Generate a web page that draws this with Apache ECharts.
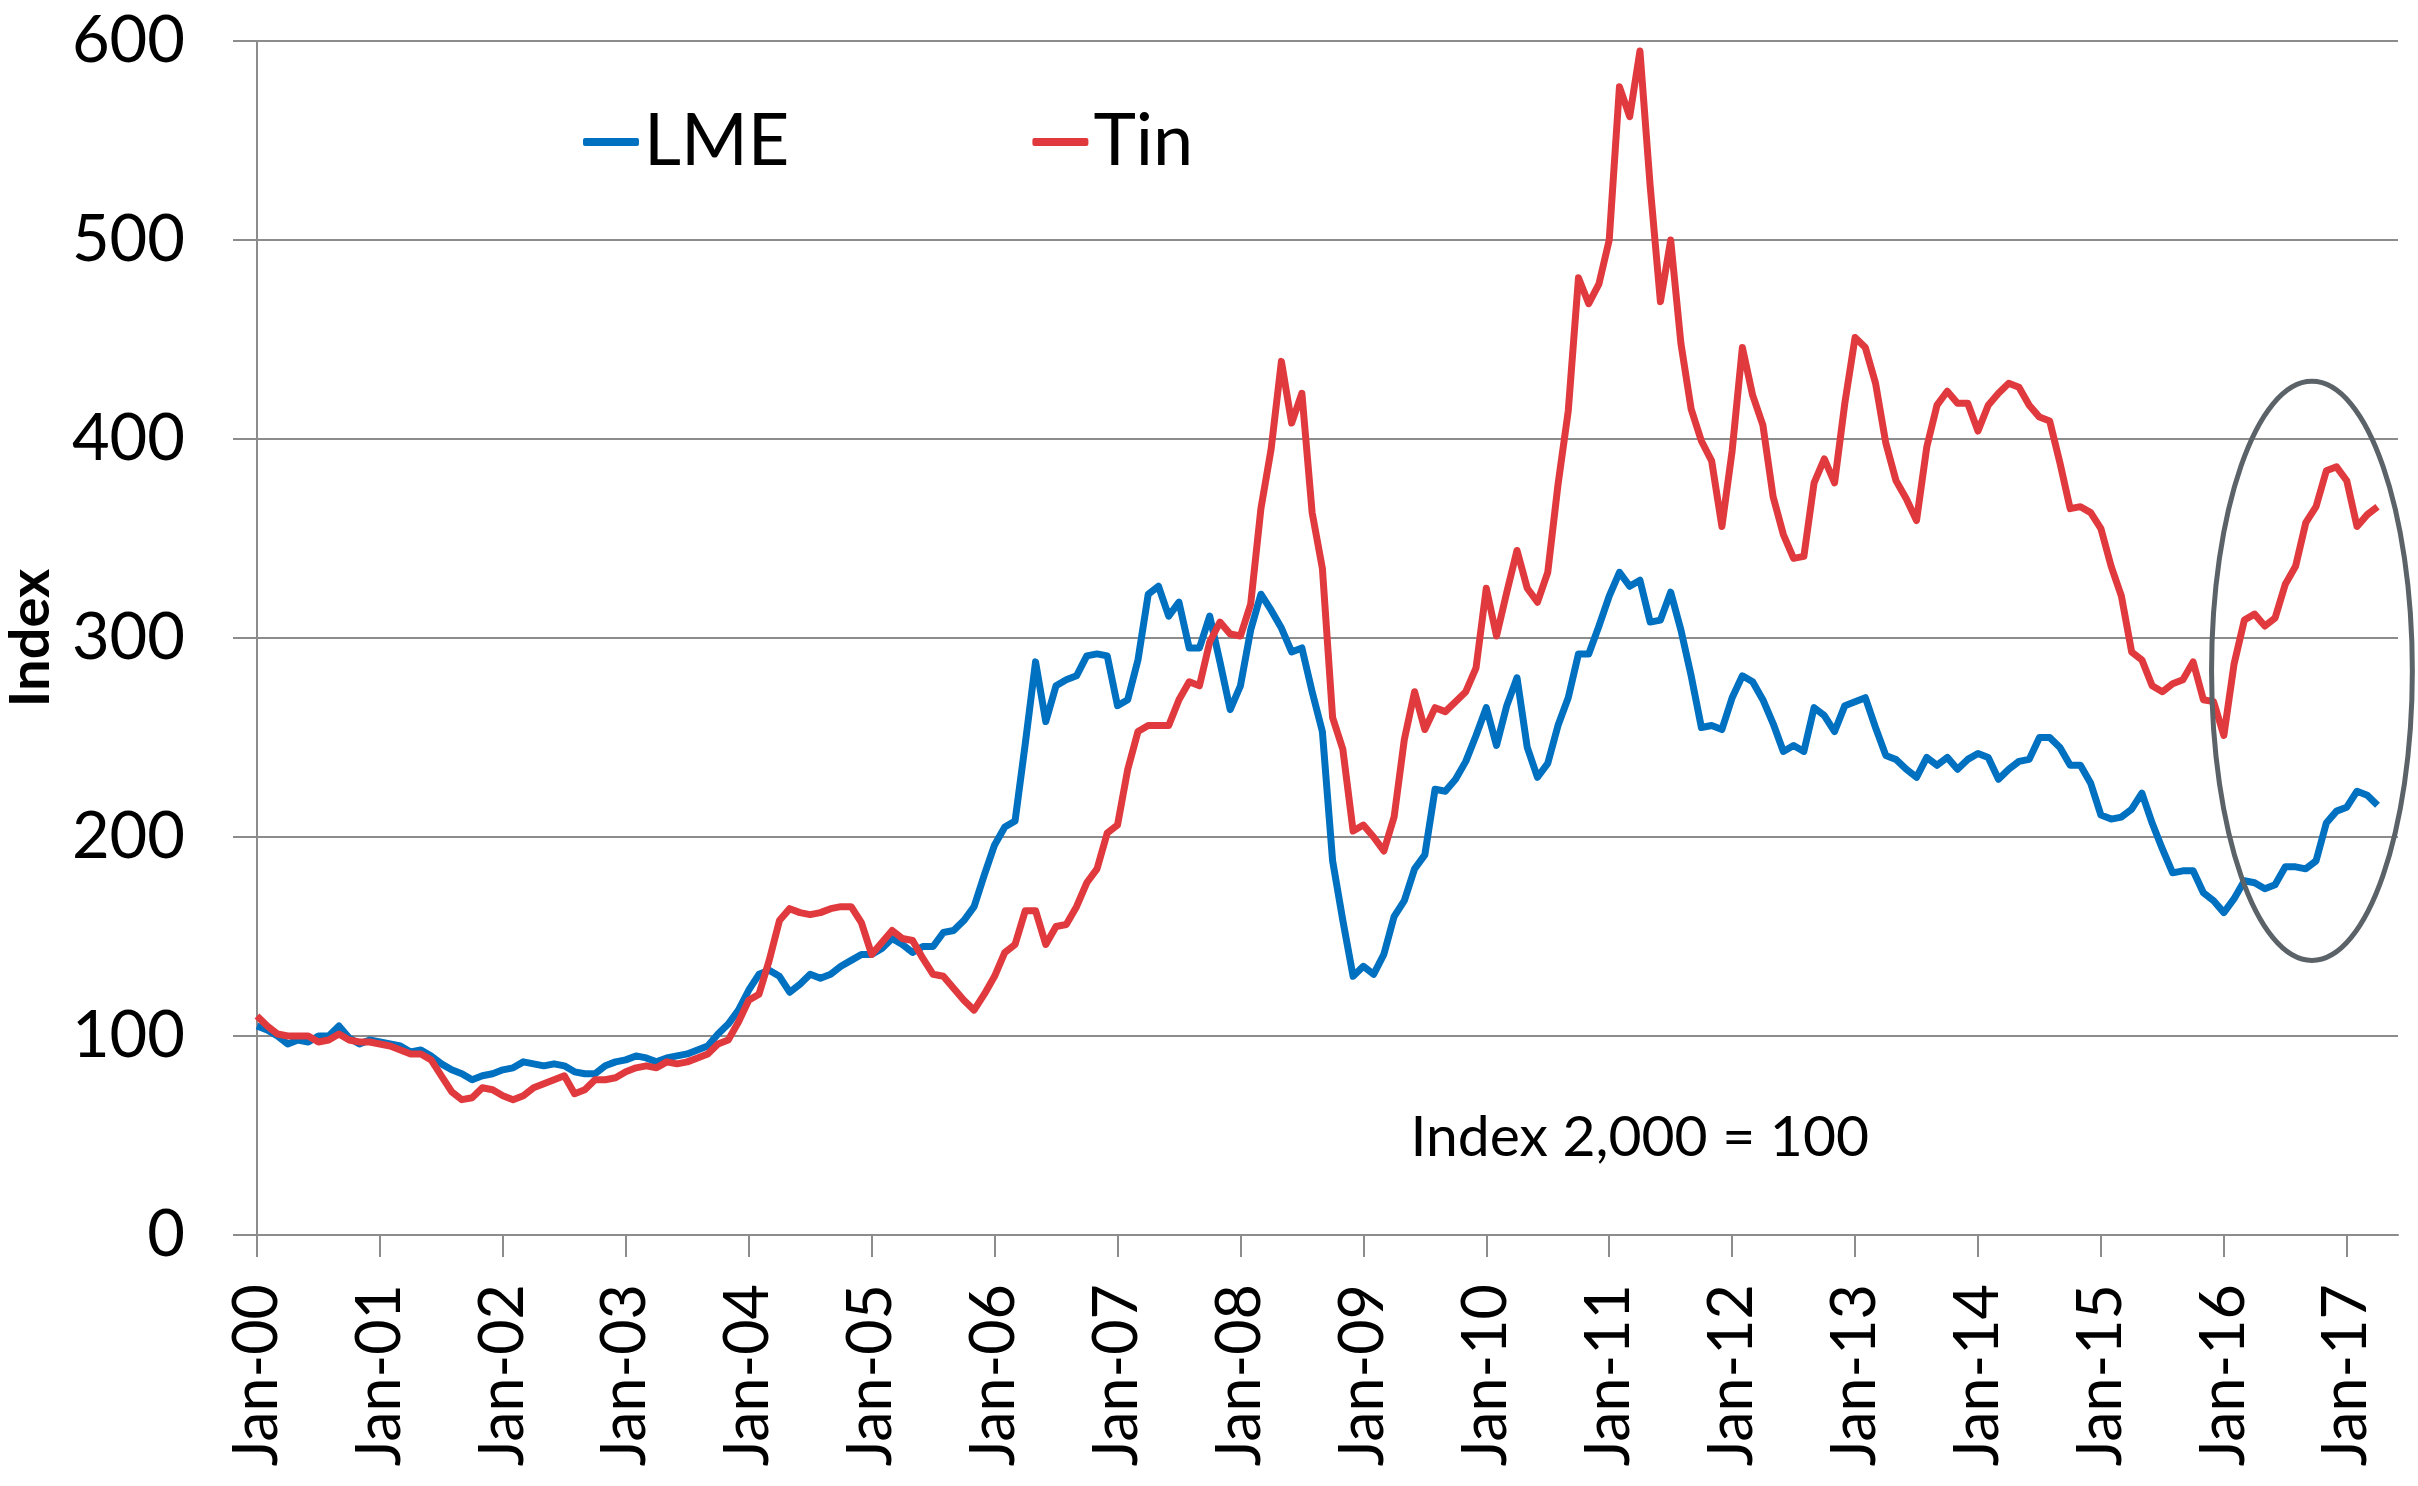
<!DOCTYPE html>
<html>
<head>
<meta charset="utf-8">
<title>LME vs Tin index</title>
<script src="https://cdn.jsdelivr.net/npm/echarts@6/dist/echarts.min.js"></script>
<style>
  html, body { margin: 0; padding: 0; background: #fff; }
  #chart { width: 2418px; height: 1486px; }
</style>
</head>
<body>
<div id="chart"></div>
<script>
// month labels Jan-00 .. Jun-17 (axis runs a couple of months past the data)
const monthNames = ['Jan', 'Feb', 'Mar', 'Apr', 'May', 'Jun', 'Jul', 'Aug', 'Sep', 'Oct', 'Nov', 'Dec']
const firstYear = 2000
const monthCount = 210
const months = []
for (let i = 0; i < monthCount; i++) {
  const yy = String((firstYear + Math.floor(i / 12)) % 100).padStart(2, '0')
  months.push(monthNames[i % 12] + '-' + yy)
}

// monthly index values, one row per year (2000 = 100)
const lme = [
  105, 103, 100, 96, 98, 97, 100, 100, 105, 99, 96, 98,
  97, 96, 95, 92, 93, 90, 86, 83, 81, 78, 80, 81,
  83, 84, 87, 86, 85, 86, 85, 82, 81, 81, 85, 87,
  88, 90, 89, 87, 89, 90, 91, 93, 95, 101, 106, 113,
  123, 131, 133, 130, 122, 126, 131, 129, 131, 135, 138, 141,
  141, 144, 149, 146, 142, 145, 145, 152, 153, 158, 165, 181,
  196, 205, 208, 247, 288, 258, 276, 279, 281, 291, 292, 291,
  266, 269, 289, 322, 326, 311, 318, 295, 295, 311, 288, 264,
  276, 304, 322, 314, 305, 293, 295, 273, 253, 188, 158, 130,
  135, 131, 141, 160, 168, 184, 191, 224, 223, 229, 238, 251,
  265, 246, 266, 280, 245, 230, 237, 256, 270, 292, 292, 306,
  321, 333, 326, 329, 308, 309, 323, 304, 281, 255, 256, 254,
  270, 281, 278, 269, 257, 243, 246, 243, 265, 261, 253, 266,
  268, 270, 255, 241, 239, 234, 230, 240, 236, 240, 234, 239,
  242, 240, 229, 234, 238, 239, 250, 250, 245, 236, 236, 227,
  211, 209, 210, 214, 222, 207, 194, 182, 183, 183, 172, 168,
  162, 169, 178, 177, 174, 176, 185, 185, 184, 188, 207, 213,
  215, 223, 221, 216
]
const tin = [
  110, 105, 101, 100, 100, 100, 97, 98, 101, 98, 97, 97,
  96, 95, 93, 91, 91, 88, 80, 72, 68, 69, 74, 73,
  70, 68, 70, 74, 76, 78, 80, 71, 73, 78, 78, 79,
  82, 84, 85, 84, 87, 86, 87, 89, 91, 96, 98, 107,
  118, 121, 138, 158, 164, 162, 161, 162, 164, 165, 165, 157,
  141, 147, 153, 149, 148, 139, 131, 130, 124, 118, 113, 121,
  130, 142, 146, 163, 163, 146, 155, 156, 165, 177, 184, 202,
  206, 234, 253, 256, 256, 256, 269, 278, 276, 298, 308, 302,
  301, 317, 365, 395, 439, 408, 423, 363, 335, 260, 244, 203,
  206, 200, 193, 210, 249, 273, 254, 265, 263, 268, 273, 285,
  325, 301, 323, 344, 325, 318, 333, 377, 414, 481, 468, 478,
  500, 577, 562, 595, 527, 469, 500, 448, 415, 399, 389, 356,
  394, 446, 422, 407, 371, 352, 340, 341, 378, 390, 378, 418,
  451, 446, 428, 398, 379, 370, 359, 396, 417, 424, 418, 418,
  404, 417, 423, 428, 426, 417, 411, 409, 388, 365, 366, 363,
  355, 336, 321, 293, 289, 276, 273, 277, 279, 288, 269, 268,
  251, 287, 309, 312, 306, 310, 327, 336, 358, 366, 384, 386,
  379, 356, 362, 366
]

// annotations, in data units (month index, index value)
const noteText = 'Index 2,000 = 100'
const noteAt = [112.6, 49]
const ringCenter = [200.6, 283.5]
const ringRadius = [9.8, 145.5]

const font = 'Lato, "Noto Sans", sans-serif'
const gray = '#8c8c8c'
const blue = '#0070c0'
const red = '#e03a3e'
const everyJan = (index) => index % 12 === 0

const chart = echarts.init(document.getElementById('chart'))

chart.setOption({
  animation: false,
  backgroundColor: '#ffffff',
  grid: {
    left: 257,
    right: 20,
    top: 41,
    bottom: 251,
    outerBoundsMode: 'none'
  },
  legend: {
    data: ['LME', 'Tin'],
    left: 583,
    top: 106,
    padding: 0,
    icon: 'roundRect',
    itemWidth: 56,
    itemHeight: 8,
    itemGap: 243,
    textStyle: {
      fontFamily: font,
      fontSize: 72,
      color: '#000'
    }
  },
  xAxis: {
    type: 'category',
    data: months,
    boundaryGap: false,
    axisLine: {
      lineStyle: { color: gray, width: 2 }
    },
    axisTick: {
      interval: everyJan,
      length: 22,
      lineStyle: { color: gray, width: 2 }
    },
    axisLabel: {
      interval: everyJan,
      rotate: 90,
      margin: 49,
      fontFamily: font,
      fontSize: 61,
      color: '#000'
    },
    splitLine: { show: false }
  },
  yAxis: {
    type: 'value',
    min: 0,
    max: 600,
    interval: 100,
    name: 'Index',
    nameLocation: 'middle',
    nameRotate: 90,
    nameGap: 198,
    nameTextStyle: {
      fontFamily: font,
      fontSize: 56,
      fontWeight: 'bold',
      color: '#000'
    },
    axisLine: {
      show: true,
      lineStyle: { color: gray, width: 2 }
    },
    axisTick: {
      show: true,
      length: 24,
      lineStyle: { color: gray, width: 2 }
    },
    axisLabel: {
      margin: 72,
      fontFamily: font,
      fontSize: 65,
      color: '#000'
    },
    splitLine: {
      lineStyle: { color: gray, width: 2 }
    }
  },
  series: [
    {
      name: 'LME',
      type: 'line',
      data: lme,
      symbol: 'none',
      showSymbol: false,
      itemStyle: { color: blue },
      lineStyle: { color: blue, width: 7, join: 'round' }
    },
    {
      name: 'Tin',
      type: 'line',
      data: tin,
      symbol: 'none',
      showSymbol: false,
      itemStyle: { color: red },
      lineStyle: { color: red, width: 7, join: 'round' }
    }
  ]
})

// place the note and the ring through the axes
function pointAt(monthPos, value) {
  const i = Math.floor(monthPos)
  const a = chart.convertToPixel({ gridIndex: 0 }, [i, value])
  const b = chart.convertToPixel({ gridIndex: 0 }, [i + 1, value])
  return [a[0] + (b[0] - a[0]) * (monthPos - i), a[1]]
}
const p0 = chart.convertToPixel({ gridIndex: 0 }, [0, 0])
const p1 = chart.convertToPixel({ gridIndex: 0 }, [1, 1])
const monthPx = p1[0] - p0[0]
const unitPx = p0[1] - p1[1]
const notePx = pointAt(noteAt[0], noteAt[1])
const ringPx = pointAt(ringCenter[0], ringCenter[1])

chart.setOption({
  graphic: [
    {
      type: 'text',
      x: notePx[0],
      y: notePx[1],
      z: 10,
      style: {
        text: noteText,
        font: '57px ' + font,
        fill: '#000',
        align: 'left',
        verticalAlign: 'middle',
        textAlign: 'left',
        textVerticalAlign: 'middle'
      }
    },
    {
      type: 'ellipse',
      z: 10,
      shape: {
        cx: ringPx[0],
        cy: ringPx[1],
        rx: ringRadius[0] * monthPx,
        ry: ringRadius[1] * unitPx
      },
      style: {
        fill: 'none',
        stroke: '#5b6369',
        lineWidth: 5
      }
    }
  ]
})
</script>
</body>
</html>
